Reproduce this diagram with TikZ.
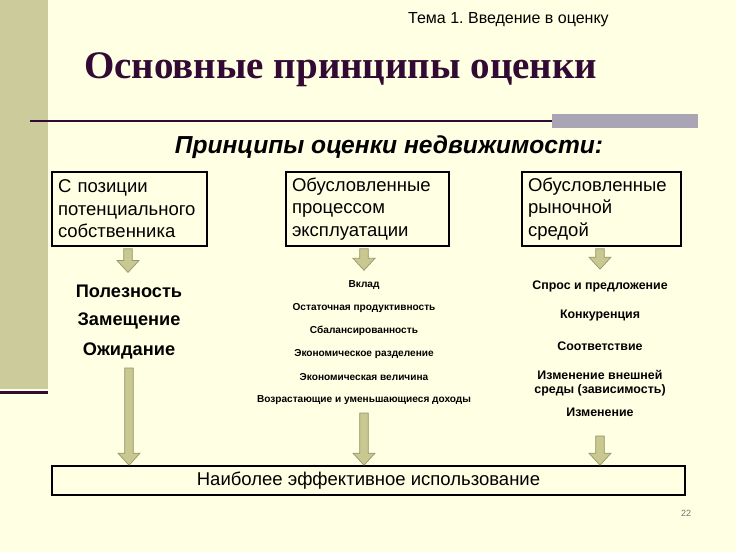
\documentclass[tikz,border=0pt]{standalone}
\usepackage{fontspec}
\setmainfont{Liberation Sans}
\newfontfamily\titlefont{Liberation Serif}
\usetikzlibrary{calc}
\frenchspacing

\definecolor{slidebg}{HTML}{FFFFE3}
\definecolor{sidebar}{HTML}{CBCB9B}
\definecolor{titlepurple}{HTML}{330A33}
\definecolor{graybar}{HTML}{A9A5B5}
\definecolor{arrowfill}{HTML}{C8C890}
\definecolor{arrowline}{HTML}{96966A}

\tikzset{
  groupbox/.style={draw=black, line width=1.6pt, minimum height=74pt, inner xsep=6pt,
    align=left, font=\fontsize{18.5}{22.5}\selectfont},
  bigitem/.style={inner sep=0pt, font=\fontsize{18.2}{20}\selectfont\bfseries},
  smallitem/.style={inner sep=0pt, font=\fontsize{10.1}{12}\selectfont\bfseries},
  miditem/.style={inner sep=0pt, align=center, font=\fontsize{12.4}{14.5}\selectfont\bfseries},
  blockarrow/.style={fill=arrowfill, draw=arrowline, line width=0.7pt,
    to path={let \p1=(\tikztostart), \p2=(\tikztotarget) in
      (\x1-4.3pt,\y1) -- (\x1-4.3pt,\y2+12pt) -- (\x1-11pt,\y2+12pt) -- (\x1,\y2)
      -- (\x1+11pt,\y2+12pt) -- (\x1+4.3pt,\y2+12pt) -- (\x1+4.3pt,\y1) -- cycle}}
}

\begin{document}
\begin{tikzpicture}[x=1pt, y=-1pt]
  \useasboundingbox (0,0) rectangle (736,552);
  \fill[slidebg] (0,0) rectangle (736,552);

  % Slide frame
  \fill[sidebar] (0,0) rectangle (48,389);
  \fill[titlepurple] (0,391) rectangle (48,394);
  \draw[titlepurple, line width=2pt] (30,121) -- (552,121);
  \fill[graybar] (552,114) rectangle (698,128);

  % Headings
  \node[anchor=west, inner sep=0pt, font=\fontsize{16}{18}\selectfont] (topic) at (408,20) {Тема 1. Введение в оценку};
  \node[anchor=west, inner sep=0pt, text=titlepurple, font=\titlefont\fontsize{39}{44}\selectfont\bfseries] (title) at (84,70) {Основные принципы оценки};
  \node[inner sep=0pt, font=\fontsize{24.6}{27}\selectfont\bfseries\itshape] (sub) at (389,147) {Принципы оценки недвижимости:};

  % Groups
  \node[groupbox, minimum width=155pt, text width=143pt] (own) at (129.5,209) {С позиции\\потенциального\\собственника};
  \node[groupbox, minimum width=163pt, text width=151pt] (expl) at (367.5,209) {Обусловленные\\процессом\\эксплуатации};
  \node[groupbox, minimum width=159pt, text width=147pt] (market) at (601.5,209) {Обусловленные\\рыночной\\средой};

  % Principles of the owner
  \node[bigitem] (util) at (129,291) {Полезность};
  \node[bigitem] (subst) at (129,321) {Замещение};
  \node[bigitem] (wait) at (129,351) {Ожидание};

  % Principles of use
  \node[smallitem] (contr) at (364,285) {Вклад};
  \node[smallitem] (resid) at (364,308) {Остаточная продуктивность};
  \node[smallitem] (bal) at (364,331) {Сбалансированность};
  \node[smallitem] (split) at (364,354) {Экономическое разделение};
  \node[smallitem] (size) at (364,377) {Экономическая величина};
  \node[smallitem] (yield) at (364,400) {Возрастающие и уменьшающиеся доходы};

  % Principles of the market
  \node[miditem] (supply) at (600,286) {Спрос и предложение};
  \node[miditem] (compet) at (600,316) {Конкуренция};
  \node[miditem] (conf) at (600,346) {Соответствие};
  \node[miditem] (env) at (600,383) {Изменение внешней\\среды (зависимость)};
  \node[miditem] (change) at (600,412) {Изменение};

  % Result
  \node[draw=black, line width=1.6pt, minimum width=633pt, minimum height=29pt,
    font=\fontsize{18.5}{20}\selectfont] (best) at (368.5,480.5) {Наиболее эффективное использование};
  \node[text=black!55, font=\fontsize{9}{11}\selectfont] (page) at (686,513) {22};

  % Arrows
  \draw[blockarrow] ([xshift=-1.5pt,yshift=-2pt]own.south) to ([yshift=12pt]util.north);
  \draw[blockarrow] ([xshift=-3.5pt,yshift=-2pt]expl.south) to ([yshift=10pt]contr.north);
  \draw[blockarrow] ([xshift=-1.5pt,yshift=-2pt]market.south) to ([yshift=11pt]supply.north);
  \draw[blockarrow] ([yshift=-17pt]wait.center) to (best.north);
  \draw[blockarrow] ([yshift=-13pt]yield.center) to (best.north);
  \draw[blockarrow] ([yshift=-24pt]change.center) to (best.north);
\end{tikzpicture}
\end{document}
